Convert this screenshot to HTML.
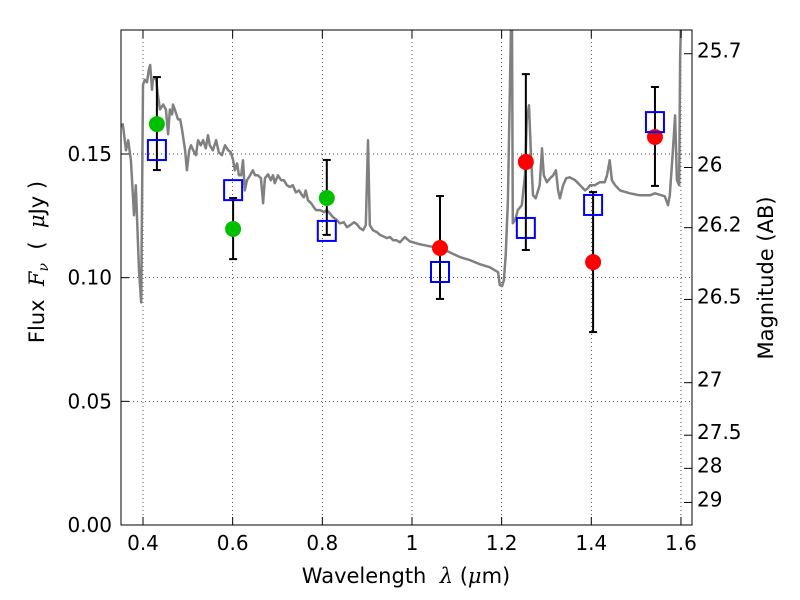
<!DOCTYPE html>
<html><head><meta charset="utf-8"><style>
body{margin:0;background:#fff}
svg{display:block;font-family:"DejaVu Sans","Liberation Sans",sans-serif}
</style></head><body>
<svg id="chart" width="800" height="600">
<defs><clipPath id="clip"><rect x="121" y="30" width="571" height="495"/></clipPath></defs>
<rect x="0" y="0" width="800" height="600" fill="#fff"/>
<g id="grid"></g>
<g id="spec" clip-path="url(#clip)"></g>
<g id="marks"></g>
<rect x="121" y="30" width="571" height="495" fill="none" stroke="#000" stroke-width="1"/>
<g id="axes"></g>
<text x="406" y="583" font-size="21" text-anchor="middle">Wavelength&#160;&#160;<tspan font-style="italic" font-family="DejaVu Serif,serif">λ</tspan> (<tspan font-style="italic" font-family="DejaVu Serif,serif">μ</tspan>m)</text>
<text transform="translate(44,262) rotate(-90)" font-size="21" text-anchor="middle">Flux&#160;&#160;<tspan font-style="italic" font-family="DejaVu Serif,serif">F<tspan font-size="14" dy="4">ν</tspan></tspan><tspan dy="-4">&#160;&#160;(&#160;&#160;</tspan><tspan font-style="italic" font-family="DejaVu Serif,serif">μ</tspan>Jy )</text>
<text transform="translate(773,278) rotate(-90)" font-size="21" text-anchor="middle">Magnitude (AB)</text>
</svg>
<script>
const xTicks=[0.4,0.6,0.8,1.0,1.2,1.4,1.6];
const xTickLabels=["0.4","0.6","0.8","1","1.2","1.4","1.6"];
const yTicks=[0,0.05,0.10,0.15];
const yTickLabels=["0.00","0.05","0.10","0.15"];
const magTicks=[25.7,26,26.2,26.5,27,27.5,28,29];
const magTickLabels=["25.7","26","26.2","26.5","27","27.5","28","29"];
const specWave=[0.351,0.355,0.362,0.367,0.373,0.380,0.384,0.391,0.396,0.400,0.404,0.409,0.413,0.416,0.420,0.422,0.429,0.433,0.438,0.445,0.451,0.456,0.460,0.465,0.467,0.471,0.478,0.483,0.487,0.494,0.498,0.503,0.507,0.512,0.518,0.523,0.529,0.534,0.540,0.545,0.549,0.556,0.563,0.569,0.576,0.583,0.590,0.596,0.601,0.605,0.610,0.614,0.619,0.623,0.627,0.632,0.639,0.645,0.650,0.656,0.663,0.668,0.672,0.679,0.685,0.690,0.694,0.701,0.708,0.714,0.721,0.728,0.734,0.741,0.748,0.755,0.759,0.763,0.768,0.775,0.781,0.786,0.795,0.804,0.810,0.817,0.824,0.833,0.839,0.848,0.855,0.862,0.871,0.877,0.884,0.891,0.897,0.902,0.906,0.913,0.922,0.929,0.935,0.944,0.951,0.958,0.966,0.973,0.984,0.995,1.018,1.040,1.062,1.084,1.107,1.129,1.152,1.174,1.185,1.192,1.196,1.201,1.205,1.209,1.214,1.218,1.221,1.223,1.225,1.230,1.236,1.245,1.252,1.256,1.261,1.265,1.270,1.276,1.285,1.290,1.294,1.301,1.308,1.315,1.321,1.326,1.330,1.337,1.344,1.352,1.364,1.375,1.386,1.392,1.397,1.408,1.419,1.430,1.435,1.441,1.446,1.453,1.464,1.486,1.508,1.531,1.542,1.564,1.571,1.575,1.582,1.587,1.591,1.596,1.598,1.600];
const specFlux=[0.161,0.162,0.1515,0.1556,0.1475,0.1252,0.1374,0.103,0.090,0.178,0.180,0.179,0.184,0.186,0.176,0.180,0.181,0.174,0.168,0.170,0.168,0.158,0.168,0.166,0.170,0.168,0.164,0.164,0.160,0.1515,0.1434,0.1515,0.1535,0.1515,0.1495,0.1556,0.1535,0.1556,0.1523,0.1576,0.1535,0.1515,0.1556,0.1507,0.1495,0.1535,0.1515,0.1507,0.1475,0.1434,0.1462,0.1414,0.1414,0.1475,0.1353,0.1394,0.1414,0.1434,0.1414,0.1414,0.1402,0.1301,0.1402,0.1418,0.1394,0.1414,0.1382,0.1414,0.1394,0.1394,0.1374,0.1366,0.1374,0.1345,0.1353,0.1333,0.1325,0.1353,0.1313,0.1301,0.1285,0.1273,0.1273,0.1265,0.1273,0.1260,0.1244,0.1232,0.1220,0.1224,0.1204,0.1212,0.1224,0.1216,0.1200,0.1192,0.1212,0.1556,0.1212,0.1192,0.1184,0.1172,0.1168,0.1160,0.1164,0.1151,0.1151,0.1143,0.1164,0.1147,0.1135,0.1127,0.1119,0.1103,0.1083,0.1071,0.1054,0.1042,0.1030,0.1022,0.0970,0.0966,0.0990,0.1091,0.1313,0.172,0.204,0.204,0.1220,0.1232,0.1273,0.1293,0.1414,0.1636,0.1697,0.1515,0.1333,0.1321,0.1374,0.1523,0.1414,0.1386,0.1402,0.1414,0.1434,0.1353,0.1321,0.1374,0.1402,0.1406,0.1394,0.1374,0.1353,0.1361,0.1374,0.1374,0.1386,0.1386,0.1414,0.1475,0.1394,0.1374,0.1353,0.1341,0.1333,0.1333,0.1341,0.1329,0.1293,0.1333,0.1515,0.1656,0.1394,0.1374,0.188,0.204];
const greenWave=[0.431,0.601,0.810];
const greenFlux=[0.1621,0.1197,0.1322];
const redWave=[1.0625,1.254,1.404,1.542];
const redFlux=[0.1120,0.1468,0.1063,0.1569];
const modelWave=[0.431,0.601,0.810,1.0625,1.254,1.404,1.542];
const modelFlux=[0.1516,0.1354,0.1189,0.1023,0.1201,0.1294,0.1629];
const errLow=[0.1435,0.1075,0.1173,0.0914,0.1112,0.0780,0.1371];
const errHigh=[0.1811,0.1322,0.1476,0.1330,0.1823,0.1346,0.1771];

const X=v=>143+(v-0.4)*448.3;
const Y=v=>525-v*2473.3;
const M=m=>Y(Math.pow(10,(23.9-m)/2.5));
const NS="http://www.w3.org/2000/svg";
function mk(tag,attrs,parent,txt){const e=document.createElementNS(NS,tag);for(const k in attrs)e.setAttribute(k,attrs[k]);if(txt!==undefined)e.textContent=txt;parent.appendChild(e);return e;}
const grid=document.getElementById('grid'),axes=document.getElementById('axes'),spec=document.getElementById('spec'),marks=document.getElementById('marks');

xTicks.forEach((t,i)=>{const x=X(t);
 const g=mk('line',{x1:x,x2:x,y1:30,y2:525,stroke:'#000','stroke-width':0.7,'stroke-dasharray':'1,3'},grid);
 
 mk('line',{x1:x,x2:x,y1:525,y2:517,stroke:'#000'},axes);mk('line',{x1:x,x2:x,y1:30,y2:38,stroke:'#000'},axes);
 const l=mk('text',{x:x,y:550,'font-size':20,'text-anchor':'middle'},axes,xTickLabels[i]);
 });
yTicks.forEach((t,i)=>{const y=Y(t);
 if(t>0){const g=mk('line',{x1:121,x2:692,y1:y,y2:y,stroke:'#000','stroke-width':0.7,'stroke-dasharray':'1,3'},grid);
 }
 mk('line',{x1:121,x2:129,y1:y,y2:y,stroke:'#000'},axes);
 const l=mk('text',{x:112,y:y+7,'font-size':20,'text-anchor':'end'},axes,yTickLabels[i]);
 });
magTicks.forEach((m,i)=>{const y=M(m);
 mk('line',{x1:692,x2:684,y1:y,y2:y,stroke:'#000'},axes);
 const l=mk('text',{x:697,y:y+4,'font-size':20},axes,magTickLabels[i]);
 });

const pts=specWave.map((w,i)=>X(w).toFixed(1)+','+Y(specFlux[i]).toFixed(1)).join(' ');
const pl=mk('polyline',{points:pts,fill:'none',stroke:'#808080','stroke-width':2.5,'stroke-linejoin':'round'},spec);


modelWave.forEach((w,i)=>{const x=X(w);
 const e=mk('g',{},marks);
 
 mk('line',{x1:x,x2:x,y1:Y(errLow[i]),y2:Y(errHigh[i]),stroke:'#000','stroke-width':2},e);
 mk('line',{x1:x-4,x2:x+4,y1:Y(errLow[i]),y2:Y(errLow[i]),stroke:'#000','stroke-width':2},e);
 mk('line',{x1:x-4,x2:x+4,y1:Y(errHigh[i]),y2:Y(errHigh[i]),stroke:'#000','stroke-width':2},e);});
greenWave.forEach((w,i)=>{const c=mk('circle',{cx:X(w),cy:Y(greenFlux[i]),r:8,fill:'#00bf00'},marks);
 });
redWave.forEach((w,i)=>{const c=mk('circle',{cx:X(w),cy:Y(redFlux[i]),r:8,fill:'#ff0000'},marks);
 });
modelWave.forEach((w,i)=>{const r=mk('rect',{x:X(w)-9,y:Y(modelFlux[i])-10,width:18,height:20,fill:'none',stroke:'#0000ff','stroke-width':2},marks);
 });
</script>
</body></html>
